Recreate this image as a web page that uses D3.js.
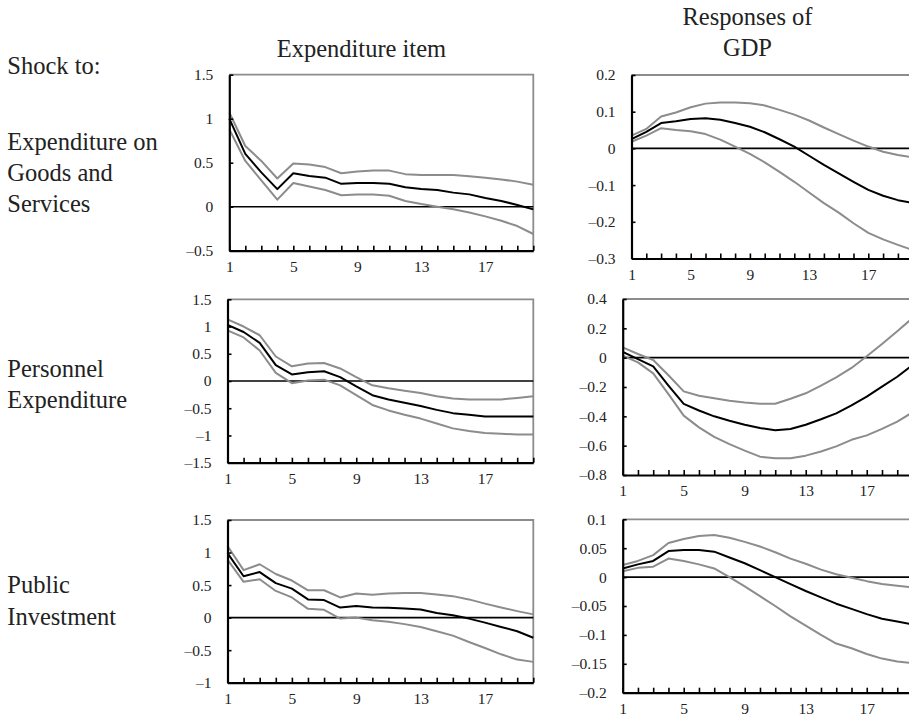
<!DOCTYPE html>
<html>
<head>
<meta charset="utf-8">
<script src="https://cdn.jsdelivr.net/npm/d3@7"></script>
<style>
  html, body { margin: 0; padding: 0; background: #fff; }
  svg { display: block; }
  text { font-family: "Liberation Serif", "Times New Roman", serif; fill: #222; }
</style>
</head>
<body>
<svg id="chart" width="909" height="716"></svg>
<script>
// Horizon (periods after the shock)
const periods = d3.range(1, 21);
const periodLabels = [1, 5, 9, 13, 17];

// Shock to expenditure on goods and services
const gsItemMid = [1.00, 0.60, 0.39, 0.20, 0.38, 0.35, 0.33, 0.26, 0.27, 0.27, 0.26, 0.22, 0.20, 0.19, 0.16, 0.14, 0.10, 0.065, 0.02, -0.03];
const gsItemUp  = [1.07, 0.69, 0.52, 0.32, 0.49, 0.48, 0.45, 0.38, 0.40, 0.41, 0.41, 0.37, 0.36, 0.36, 0.36, 0.345, 0.33, 0.31, 0.285, 0.25];
const gsItemLo  = [0.88, 0.52, 0.30, 0.08, 0.27, 0.23, 0.19, 0.13, 0.14, 0.14, 0.125, 0.065, 0.03, 0.0, -0.03, -0.065, -0.11, -0.16, -0.22, -0.31];
const gsGdpMid  = [0.025, 0.045, 0.069, 0.074, 0.080, 0.082, 0.078, 0.069, 0.059, 0.044, 0.025, 0.005, -0.020, -0.045, -0.068, -0.091, -0.113, -0.129, -0.141, -0.149];
const gsGdpUp   = [0.035, 0.053, 0.087, 0.098, 0.112, 0.122, 0.125, 0.125, 0.123, 0.117, 0.105, 0.092, 0.076, 0.057, 0.039, 0.021, 0.005, -0.009, -0.018, -0.024];
const gsGdpLo   = [0.018, 0.035, 0.055, 0.050, 0.047, 0.039, 0.024, 0.005, -0.015, -0.038, -0.064, -0.091, -0.120, -0.149, -0.175, -0.204, -0.230, -0.248, -0.263, -0.277];

// Shock to personnel expenditure
const peItemMid = [1.03, 0.90, 0.70, 0.29, 0.12, 0.16, 0.18, 0.07, -0.10, -0.26, -0.34, -0.40, -0.46, -0.53, -0.59, -0.62, -0.65, -0.65, -0.65, -0.65];
const peItemUp  = [1.13, 1.00, 0.84, 0.45, 0.27, 0.32, 0.33, 0.23, 0.07, -0.08, -0.135, -0.18, -0.22, -0.28, -0.32, -0.34, -0.34, -0.34, -0.31, -0.28];
const peItemLo  = [0.93, 0.80, 0.56, 0.15, -0.04, 0.01, 0.025, -0.08, -0.26, -0.44, -0.54, -0.62, -0.69, -0.78, -0.87, -0.92, -0.955, -0.97, -0.98, -0.98];
const peGdpMid  = [0.04, -0.01, -0.06, -0.19, -0.315, -0.36, -0.40, -0.43, -0.457, -0.48, -0.495, -0.486, -0.457, -0.42, -0.38, -0.325, -0.266, -0.198, -0.13, -0.05];
const peGdpUp   = [0.07, 0.025, -0.016, -0.12, -0.23, -0.26, -0.277, -0.293, -0.305, -0.314, -0.314, -0.28, -0.243, -0.19, -0.134, -0.07, 0.01, 0.093, 0.18, 0.27];
const peGdpLo   = [0.014, -0.032, -0.107, -0.248, -0.395, -0.475, -0.54, -0.59, -0.634, -0.675, -0.686, -0.686, -0.668, -0.64, -0.605, -0.56, -0.53, -0.486, -0.436, -0.373];

// Shock to public investment
const piItemMid = [0.99, 0.635, 0.70, 0.53, 0.445, 0.28, 0.27, 0.155, 0.18, 0.155, 0.15, 0.14, 0.125, 0.07, 0.035, -0.015, -0.077, -0.143, -0.21, -0.31];
const piItemUp  = [1.10, 0.73, 0.82, 0.67, 0.57, 0.42, 0.42, 0.31, 0.37, 0.35, 0.37, 0.38, 0.38, 0.355, 0.33, 0.28, 0.215, 0.155, 0.10, 0.05];
const piItemLo  = [0.89, 0.55, 0.59, 0.41, 0.31, 0.135, 0.12, -0.015, 0.0, -0.04, -0.065, -0.10, -0.143, -0.21, -0.277, -0.374, -0.466, -0.564, -0.645, -0.68];
const piGdpMid  = [0.015, 0.022, 0.028, 0.045, 0.047, 0.047, 0.044, 0.034, 0.024, 0.012, 0.0, -0.012, -0.024, -0.035, -0.046, -0.055, -0.064, -0.072, -0.077, -0.082];
const piGdpUp   = [0.021, 0.028, 0.038, 0.059, 0.066, 0.071, 0.073, 0.068, 0.061, 0.053, 0.043, 0.032, 0.023, 0.013, 0.005, -0.001, -0.007, -0.012, -0.015, -0.018];
const piGdpLo   = [0.010, 0.016, 0.018, 0.032, 0.028, 0.022, 0.015, 0.0, -0.016, -0.033, -0.050, -0.068, -0.084, -0.100, -0.115, -0.123, -0.133, -0.141, -0.146, -0.149];

// Y-axis tick values for each panel
const ticksItemGs = [-0.5, 0, 0.5, 1, 1.5];
const ticksGdpGs  = [-0.3, -0.2, -0.1, 0, 0.1, 0.2];
const ticksItemPe = [-1.5, -1, -0.5, 0, 0.5, 1, 1.5];
const ticksGdpPe  = [-0.8, -0.6, -0.4, -0.2, 0, 0.2, 0.4];
const ticksItemPi = [-1, -0.5, 0, 0.5, 1, 1.5];
const ticksGdpPi  = [-0.2, -0.15, -0.1, -0.05, 0, 0.05, 0.1];

// Text
const columnTitleItem = ["Expenditure item"];
const columnTitleGdp = ["Responses of", "GDP"];
const shockHeader = "Shock to:";
const shockNames = [["Expenditure on", "Goods and", "Services"], ["Personnel", "Expenditure"], ["Public", "Investment"]];

const GREY = "#8c8c8c";
const INK = "#000";

const panels = [
  { mid: gsItemMid, up: gsItemUp, lo: gsItemLo, ticks: ticksItemGs, box: [229.3, 533.3, 74.7, 250.7] },
  { mid: gsGdpMid,  up: gsGdpUp,  lo: gsGdpLo,  ticks: ticksGdpGs,  box: [631.5, 912.7, 75.0, 258.5] },
  { mid: peItemMid, up: peItemUp, lo: peItemLo, ticks: ticksItemPe, box: [227.5, 533.3, 299.3, 462.7] },
  { mid: peGdpMid,  up: peGdpUp,  lo: peGdpLo,  ticks: ticksGdpPe,  box: [622.7, 912.5, 299.0, 475.0] },
  { mid: piItemMid, up: piItemUp, lo: piItemLo, ticks: ticksItemPi, box: [227.5, 533.3, 520.0, 682.7] },
  { mid: piGdpMid,  up: piGdpUp,  lo: piGdpLo,  ticks: ticksGdpPi,  box: [622.7, 912.5, 519.3, 692.7] }
];

const svg = d3.select("#chart");

const fmt = v => {
  const s = d3.format("~g")(Math.abs(v));
  return v < 0 ? "\u2013" + s : s;
};

panels.forEach(p => {
  const [x0, x1, y0, y1] = p.box;
  const x = d3.scaleLinear().domain([1, 20]).range([x0, x1]);
  const y = d3.scaleLinear().domain(d3.extent(p.ticks)).range([y1, y0]);
  const g = svg.append("g");

  // grey frame on the top and right
  g.append("path")
    .attr("d", `M${x0},${y0}H${x1}V${y1}`)
    .attr("fill", "none").attr("stroke", GREY).attr("stroke-width", 1.8);

  // zero line
  g.append("line")
    .attr("x1", x0).attr("x2", x1).attr("y1", y(0)).attr("y2", y(0))
    .attr("stroke", INK).attr("stroke-width", 1.6);

  // confidence bands and point response
  const line = d3.line().x((d, i) => x(periods[i])).y(d => y(d));
  [[p.up, GREY], [p.lo, GREY], [p.mid, INK]].forEach(([vals, col]) => {
    g.append("path").datum(vals)
      .attr("d", line)
      .attr("fill", "none").attr("stroke", col)
      .attr("stroke-width", 2).attr("stroke-linejoin", "round");
  });

  // left axis
  const ya = g.append("g").attr("transform", `translate(${x0},0)`)
    .call(d3.axisLeft(y).tickValues(p.ticks).tickSize(-4).tickSizeOuter(0).tickPadding(16).tickFormat(fmt));
  // bottom axis
  const xa = g.append("g").attr("transform", `translate(0,${y1})`)
    .call(d3.axisBottom(x).tickValues(periods).tickSize(-5).tickSizeOuter(0).tickPadding(10)
      .tickFormat(d => periodLabels.includes(d) ? d : ""));

  [ya, xa].forEach(a => {
    a.select(".domain").attr("stroke", INK).attr("stroke-width", 2.2);
    a.selectAll(".tick line").attr("stroke", INK).attr("stroke-width", 1.6);
    a.selectAll(".tick text").attr("font-family", "Liberation Serif").attr("font-size", 15.5).attr("fill", "#222");
  });
  xa.selectAll(".tick text").attr("dy", "0.71em");
});

// Column headings
svg.append("text").attr("x", 276.7).attr("y", 57.3).attr("font-size", 24.5).text(columnTitleItem[0]);
columnTitleGdp.forEach((t, i) => {
  svg.append("text").attr("x", 747.5).attr("y", 25 + i * 30.5)
    .attr("text-anchor", "middle").attr("font-size", 24.5).text(t);
});

// Row labels
svg.append("text").attr("x", 7.3).attr("y", 74).attr("font-size", 24.5).text(shockHeader);
const rowBase = [149.5, 376.7, 593.3];
shockNames.forEach((lines, r) => {
  lines.forEach((t, i) => {
    svg.append("text").attr("x", 7.3).attr("y", rowBase[r] + i * 31.2)
      .attr("font-size", 24.5).text(t);
  });
});
</script>
</body>
</html>
